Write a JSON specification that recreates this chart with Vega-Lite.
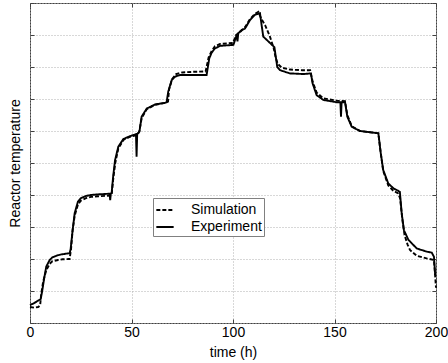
{
  "$schema": "https://vega.github.io/schema/vega-lite/v6.json",
  "width": 406,
  "height": 320,
  "autosize": "none",
  "padding": {"left": 30, "top": 3, "right": 12, "bottom": 40},
  "background": "white",
  "config": {
    "font": "Liberation Sans",
    "view": {"stroke": "#404040", "strokeWidth": 1},
    "axis": {
      "grid": true,
      "gridColor": "#b0b0b0",
      "gridDash": [1, 2],
      "gridWidth": 1,
      "domain": false,
      "ticks": true,
      "tickSize": -4,
      "tickColor": "#404040",
      "labelFontSize": 14,
      "labelColor": "black",
      "labelFlush": false,
      "titleFontSize": 14,
      "titleFontWeight": "normal",
      "titleColor": "black"
    }
  },
  "datasets": {
    "curves": [
      {"t": 0, "v": 0.56, "s": "Experiment"},
      {"t": 2, "v": 0.62, "s": "Experiment"},
      {"t": 4, "v": 0.7, "s": "Experiment"},
      {"t": 5.3, "v": 0.75, "s": "Experiment"},
      {"t": 6, "v": 1.0, "s": "Experiment"},
      {"t": 7, "v": 1.4, "s": "Experiment"},
      {"t": 8, "v": 1.76, "s": "Experiment"},
      {"t": 9.7, "v": 1.97, "s": "Experiment"},
      {"t": 11, "v": 2.05, "s": "Experiment"},
      {"t": 13.8, "v": 2.12, "s": "Experiment"},
      {"t": 16, "v": 2.15, "s": "Experiment"},
      {"t": 19.5, "v": 2.18, "s": "Experiment"},
      {"t": 20, "v": 2.3, "s": "Experiment"},
      {"t": 21, "v": 2.9, "s": "Experiment"},
      {"t": 22, "v": 3.43, "s": "Experiment"},
      {"t": 23.6, "v": 3.79, "s": "Experiment"},
      {"t": 25, "v": 3.9, "s": "Experiment"},
      {"t": 27.6, "v": 3.97, "s": "Experiment"},
      {"t": 30, "v": 4.0, "s": "Experiment"},
      {"t": 33.5, "v": 4.02, "s": "Experiment"},
      {"t": 39.2, "v": 4.04, "s": "Experiment"},
      {"t": 39.5, "v": 3.84, "s": "Experiment"},
      {"t": 39.8, "v": 4.04, "s": "Experiment"},
      {"t": 40.2, "v": 4.05, "s": "Experiment"},
      {"t": 41, "v": 4.6, "s": "Experiment"},
      {"t": 41.9, "v": 5.09, "s": "Experiment"},
      {"t": 43.5, "v": 5.51, "s": "Experiment"},
      {"t": 46, "v": 5.75, "s": "Experiment"},
      {"t": 49.3, "v": 5.84, "s": "Experiment"},
      {"t": 52.2, "v": 5.9, "s": "Experiment"},
      {"t": 52.5, "v": 5.2, "s": "Experiment"},
      {"t": 52.8, "v": 5.9, "s": "Experiment"},
      {"t": 53.9, "v": 5.98, "s": "Experiment"},
      {"t": 55, "v": 6.45, "s": "Experiment"},
      {"t": 57.5, "v": 6.7, "s": "Experiment"},
      {"t": 61.6, "v": 6.83, "s": "Experiment"},
      {"t": 66.5, "v": 6.88, "s": "Experiment"},
      {"t": 67.3, "v": 6.9, "s": "Experiment"},
      {"t": 68.1, "v": 7.23, "s": "Experiment"},
      {"t": 69.8, "v": 7.59, "s": "Experiment"},
      {"t": 71.5, "v": 7.7, "s": "Experiment"},
      {"t": 73.9, "v": 7.75, "s": "Experiment"},
      {"t": 80.5, "v": 7.75, "s": "Experiment"},
      {"t": 87, "v": 7.75, "s": "Experiment"},
      {"t": 88.3, "v": 8.27, "s": "Experiment"},
      {"t": 89.5, "v": 8.45, "s": "Experiment"},
      {"t": 91.1, "v": 8.58, "s": "Experiment"},
      {"t": 93.6, "v": 8.66, "s": "Experiment"},
      {"t": 100.2, "v": 8.69, "s": "Experiment"},
      {"t": 101.8, "v": 9.0, "s": "Experiment"},
      {"t": 102.2, "v": 8.8, "s": "Experiment"},
      {"t": 102.6, "v": 9.05, "s": "Experiment"},
      {"t": 104.3, "v": 9.16, "s": "Experiment"},
      {"t": 105.9, "v": 9.2, "s": "Experiment"},
      {"t": 108.4, "v": 9.47, "s": "Experiment"},
      {"t": 110.8, "v": 9.63, "s": "Experiment"},
      {"t": 113.3, "v": 9.68, "s": "Experiment"},
      {"t": 114.1, "v": 9.31, "s": "Experiment"},
      {"t": 114.9, "v": 8.95, "s": "Experiment"},
      {"t": 117.4, "v": 8.8, "s": "Experiment"},
      {"t": 120.4, "v": 8.62, "s": "Experiment"},
      {"t": 121.8, "v": 8.0, "s": "Experiment"},
      {"t": 123.2, "v": 7.9, "s": "Experiment"},
      {"t": 128, "v": 7.8, "s": "Experiment"},
      {"t": 134.6, "v": 7.78, "s": "Experiment"},
      {"t": 138.4, "v": 7.8, "s": "Experiment"},
      {"t": 139.2, "v": 7.49, "s": "Experiment"},
      {"t": 141.2, "v": 7.12, "s": "Experiment"},
      {"t": 144.5, "v": 6.97, "s": "Experiment"},
      {"t": 151, "v": 6.9, "s": "Experiment"},
      {"t": 152.9, "v": 6.9, "s": "Experiment"},
      {"t": 153.2, "v": 6.45, "s": "Experiment"},
      {"t": 153.5, "v": 6.9, "s": "Experiment"},
      {"t": 155.2, "v": 6.9, "s": "Experiment"},
      {"t": 156.3, "v": 6.45, "s": "Experiment"},
      {"t": 158.5, "v": 6.13, "s": "Experiment"},
      {"t": 162.6, "v": 6.0, "s": "Experiment"},
      {"t": 167.5, "v": 5.96, "s": "Experiment"},
      {"t": 171.6, "v": 5.93, "s": "Experiment"},
      {"t": 172.8, "v": 5.3, "s": "Experiment"},
      {"t": 174, "v": 4.78, "s": "Experiment"},
      {"t": 176.5, "v": 4.36, "s": "Experiment"},
      {"t": 179, "v": 4.21, "s": "Experiment"},
      {"t": 181.4, "v": 4.13, "s": "Experiment"},
      {"t": 182.2, "v": 4.1, "s": "Experiment"},
      {"t": 183.1, "v": 3.43, "s": "Experiment"},
      {"t": 184.2, "v": 2.9, "s": "Experiment"},
      {"t": 186.4, "v": 2.6, "s": "Experiment"},
      {"t": 190.5, "v": 2.33, "s": "Experiment"},
      {"t": 195.4, "v": 2.23, "s": "Experiment"},
      {"t": 197.9, "v": 2.2, "s": "Experiment"},
      {"t": 199, "v": 2.07, "s": "Experiment"},
      {"t": 199.6, "v": 1.5, "s": "Experiment"},
      {"t": 0, "v": 0.5, "s": "Simulation"},
      {"t": 2, "v": 0.48, "s": "Simulation"},
      {"t": 4, "v": 0.5, "s": "Simulation"},
      {"t": 5, "v": 0.55, "s": "Simulation"},
      {"t": 5.5, "v": 0.9, "s": "Simulation"},
      {"t": 6.5, "v": 1.3, "s": "Simulation"},
      {"t": 8, "v": 1.65, "s": "Simulation"},
      {"t": 9.7, "v": 1.85, "s": "Simulation"},
      {"t": 11, "v": 1.93, "s": "Simulation"},
      {"t": 13.8, "v": 1.97, "s": "Simulation"},
      {"t": 16, "v": 1.99, "s": "Simulation"},
      {"t": 19.5, "v": 2.0, "s": "Simulation"},
      {"t": 20.2, "v": 2.3, "s": "Simulation"},
      {"t": 21, "v": 2.9, "s": "Simulation"},
      {"t": 22, "v": 3.35, "s": "Simulation"},
      {"t": 23.6, "v": 3.7, "s": "Simulation"},
      {"t": 25, "v": 3.82, "s": "Simulation"},
      {"t": 27.6, "v": 3.9, "s": "Simulation"},
      {"t": 30, "v": 3.94, "s": "Simulation"},
      {"t": 33.5, "v": 3.96, "s": "Simulation"},
      {"t": 39.5, "v": 3.98, "s": "Simulation"},
      {"t": 40.2, "v": 4.0, "s": "Simulation"},
      {"t": 41, "v": 4.5, "s": "Simulation"},
      {"t": 42, "v": 5.0, "s": "Simulation"},
      {"t": 43.5, "v": 5.45, "s": "Simulation"},
      {"t": 46, "v": 5.72, "s": "Simulation"},
      {"t": 49.3, "v": 5.82, "s": "Simulation"},
      {"t": 53, "v": 5.88, "s": "Simulation"},
      {"t": 53.9, "v": 6.0, "s": "Simulation"},
      {"t": 55, "v": 6.4, "s": "Simulation"},
      {"t": 57.5, "v": 6.68, "s": "Simulation"},
      {"t": 61.6, "v": 6.82, "s": "Simulation"},
      {"t": 66.5, "v": 6.88, "s": "Simulation"},
      {"t": 68, "v": 6.92, "s": "Simulation"},
      {"t": 68.5, "v": 7.3, "s": "Simulation"},
      {"t": 70, "v": 7.62, "s": "Simulation"},
      {"t": 72, "v": 7.78, "s": "Simulation"},
      {"t": 75, "v": 7.83, "s": "Simulation"},
      {"t": 80.5, "v": 7.85, "s": "Simulation"},
      {"t": 86.5, "v": 7.86, "s": "Simulation"},
      {"t": 88, "v": 8.3, "s": "Simulation"},
      {"t": 89.5, "v": 8.5, "s": "Simulation"},
      {"t": 91.1, "v": 8.65, "s": "Simulation"},
      {"t": 93.6, "v": 8.72, "s": "Simulation"},
      {"t": 100, "v": 8.75, "s": "Simulation"},
      {"t": 101.5, "v": 9.0, "s": "Simulation"},
      {"t": 104, "v": 9.12, "s": "Simulation"},
      {"t": 106, "v": 9.25, "s": "Simulation"},
      {"t": 108.4, "v": 9.5, "s": "Simulation"},
      {"t": 110.8, "v": 9.66, "s": "Simulation"},
      {"t": 112.5, "v": 9.72, "s": "Simulation"},
      {"t": 114, "v": 9.5, "s": "Simulation"},
      {"t": 115.8, "v": 9.31, "s": "Simulation"},
      {"t": 118.2, "v": 8.95, "s": "Simulation"},
      {"t": 120, "v": 8.6, "s": "Simulation"},
      {"t": 121, "v": 8.3, "s": "Simulation"},
      {"t": 122, "v": 8.1, "s": "Simulation"},
      {"t": 124, "v": 7.98, "s": "Simulation"},
      {"t": 128, "v": 7.92, "s": "Simulation"},
      {"t": 134, "v": 7.9, "s": "Simulation"},
      {"t": 138, "v": 7.9, "s": "Simulation"},
      {"t": 139.2, "v": 7.55, "s": "Simulation"},
      {"t": 141.2, "v": 7.2, "s": "Simulation"},
      {"t": 144.5, "v": 7.02, "s": "Simulation"},
      {"t": 151, "v": 6.95, "s": "Simulation"},
      {"t": 155.2, "v": 6.93, "s": "Simulation"},
      {"t": 156.3, "v": 6.5, "s": "Simulation"},
      {"t": 158.5, "v": 6.15, "s": "Simulation"},
      {"t": 162.6, "v": 6.0, "s": "Simulation"},
      {"t": 167.5, "v": 5.96, "s": "Simulation"},
      {"t": 171.6, "v": 5.93, "s": "Simulation"},
      {"t": 172.8, "v": 5.3, "s": "Simulation"},
      {"t": 174, "v": 4.75, "s": "Simulation"},
      {"t": 176.5, "v": 4.3, "s": "Simulation"},
      {"t": 179, "v": 4.13, "s": "Simulation"},
      {"t": 181.4, "v": 4.05, "s": "Simulation"},
      {"t": 182.3, "v": 3.9, "s": "Simulation"},
      {"t": 183.5, "v": 3.2, "s": "Simulation"},
      {"t": 184.5, "v": 2.75, "s": "Simulation"},
      {"t": 186, "v": 2.45, "s": "Simulation"},
      {"t": 187.2, "v": 2.28, "s": "Simulation"},
      {"t": 190.5, "v": 2.1, "s": "Simulation"},
      {"t": 195.4, "v": 2.02, "s": "Simulation"},
      {"t": 199, "v": 1.97, "s": "Simulation"},
      {"t": 200, "v": 1.1, "s": "Simulation"}
    ]
  },
  "data": {"name": "curves"},
  "layer": [
    {
      "mark": {"type": "line", "color": "black", "strokeWidth": 1.9},
      "encoding": {
        "x": {
          "field": "t", "type": "quantitative",
          "scale": {"domain": [0, 200], "nice": false},
          "axis": {"values": [0, 50, 100, 150, 200], "tickCount": 5, "title": "time (h)", "labelPadding": 6, "titlePadding": 6}
        },
        "y": {
          "field": "v", "type": "quantitative",
          "scale": {"domain": [0, 10], "nice": false},
          "axis": {"values": [0, 1, 2, 3, 4, 5, 6, 7, 8, 9, 10], "tickCount": 11, "labels": false, "title": "Reactor temperature", "titleX": -8}
        },
        "strokeDash": {
          "field": "s", "type": "nominal",
          "scale": {"domain": ["Simulation", "Experiment"], "range": [[4, 2], [1, 0]]},
          "legend": {
            "title": null,
            "orient": "none",
            "legendX": 123,
            "legendY": 195,
            "direction": "vertical",
            "fillColor": "white",
            "strokeColor": "#808080",
            "padding": 2,
            "rowPadding": 0,
            "symbolType": "stroke",
            "symbolSize": 300,
            "symbolStrokeWidth": 1.9,
            "symbolStrokeColor": "black",
            "labelFontSize": 14,
            "labelColor": "black",
            "labelOffset": 16
          }
        }
      }
    },
    {
      "mark": {"type": "line", "strokeOpacity": 0},
      "encoding": {
        "x": {
          "field": "t", "type": "quantitative",
          "scale": {"domain": [0, 200], "nice": false},
          "axis": {"orient": "top", "values": [0, 50, 100, 150, 200], "tickCount": 5, "labels": false, "grid": false, "title": null}
        },
        "y": {
          "field": "v", "type": "quantitative",
          "scale": {"domain": [0, 10], "nice": false},
          "axis": {"orient": "right", "values": [0, 1, 2, 3, 4, 5, 6, 7, 8, 9, 10], "tickCount": 11, "labels": false, "grid": false, "title": null}
        },
        "detail": {"field": "s", "type": "nominal"}
      }
    }
  ],
  "resolve": {"axis": {"x": "independent", "y": "independent"}}
}
